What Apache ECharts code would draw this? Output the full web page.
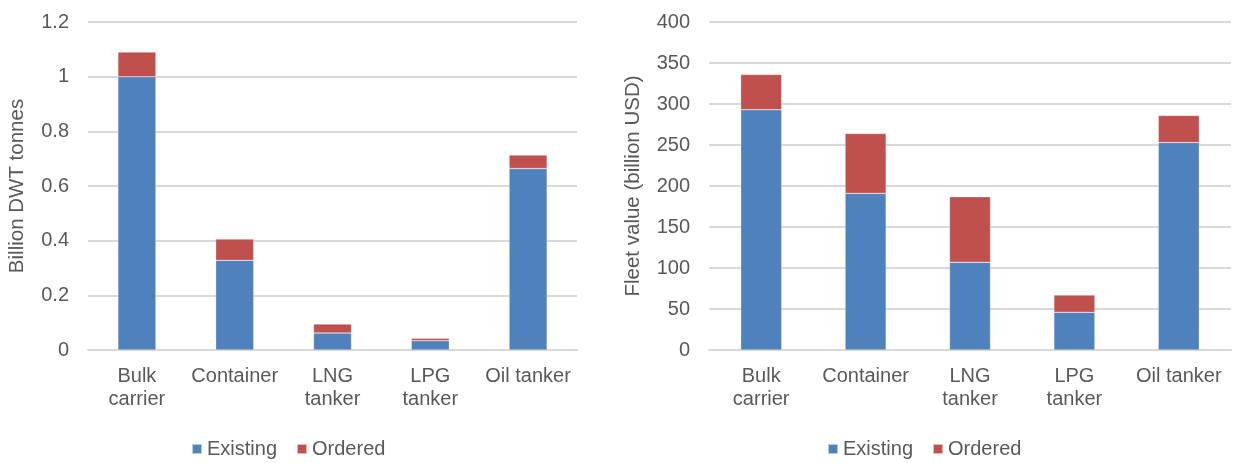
<!DOCTYPE html>
<html>
<head>
<meta charset="utf-8">
<script src="https://cdn.jsdelivr.net/npm/echarts@6/dist/echarts.min.js"></script>
<style>
  html, body { margin: 0; padding: 0; background: #fff; }
  #chart { width: 1236px; height: 463px; }
</style>
</head>
<body>
<div id="chart"></div>
<script>
// Ship types on the horizontal axis of both panels
const categories = ['Bulk\ncarrier', 'Container', 'LNG\ntanker', 'LPG\ntanker', 'Oil tanker'];

// Left panel: deadweight capacity, billion DWT tonnes
const dwtExisting = [1.0, 0.328, 0.062, 0.034, 0.664];
const dwtOrdered = [0.090, 0.078, 0.033, 0.009, 0.049];

// Right panel: fleet value, billion USD
const valueExisting = [293, 191, 107, 46, 253];
const valueOrdered = [43, 73, 80, 21, 33];

const seriesNames = ['Existing', 'Ordered'];
const colors = ['#4F81BD', '#C0504D'];

const font = 'Liberation Sans, Arial, sans-serif';
const textColor = '#595959';

function xAxis(gridIndex) {
  return {
    type: 'category',
    gridIndex,
    data: categories,
    axisLine: { show: true, lineStyle: { color: '#D9D9D9', width: 2 } },
    axisTick: { show: false },
    axisLabel: { color: textColor, fontFamily: font, fontSize: 20, lineHeight: 23, margin: 15, interval: 0 }
  };
}

function yAxis(gridIndex, name, max, interval, gap) {
  return {
    type: 'value',
    gridIndex,
    min: 0,
    max,
    interval,
    name,
    nameLocation: 'middle',
    nameGap: gap,
    nameTextStyle: { color: textColor, fontFamily: font, fontSize: 20.5 },
    axisLine: { show: false },
    axisTick: { show: false },
    axisLabel: { color: textColor, fontFamily: font, fontSize: 20, margin: 19 },
    splitLine: { lineStyle: { color: '#D9D9D9', width: 2 } }
  };
}

function bar(name, data, idx, color, width) {
  return {
    name,
    type: 'bar',
    stack: 'total' + idx,
    xAxisIndex: idx,
    yAxisIndex: idx,
    data,
    barWidth: width,
    itemStyle: { color, borderColor: 'rgba(255,255,255,0.6)', borderWidth: 0.5 }
  };
}

const legendCommon = {
  data: seriesNames,
  icon: 'rect',
  padding: 0,
  itemWidth: 10,
  itemHeight: 10,
  itemGap: 19,
  textStyle: { color: textColor, fontFamily: font, fontSize: 20 },
  selectedMode: false
};

const option = {
  animation: false,
  color: colors,
  textStyle: { fontFamily: font },
  grid: [
    { left: 88, top: 22, width: 489, height: 328 },
    { left: 709, top: 22, width: 522, height: 328 }
  ],
  xAxis: [xAxis(0), xAxis(1)],
  yAxis: [
    yAxis(0, 'Billion DWT tonnes', 1.2, 0.2, 60),
    yAxis(1, 'Fleet value (billion USD)', 400, 50, 65)
  ],
  legend: [
    Object.assign({ left: 191, top: 439 }, legendCommon),
    Object.assign({ left: 827, top: 439 }, legendCommon)
  ],
  series: [
    bar(seriesNames[0], dwtExisting, 0, colors[0], 38),
    bar(seriesNames[1], dwtOrdered, 0, colors[1], 38),
    bar(seriesNames[0], valueExisting, 1, colors[0], 41),
    bar(seriesNames[1], valueOrdered, 1, colors[1], 41)
  ]
};

const chart = echarts.init(document.getElementById('chart'), null, { renderer: 'canvas' });
chart.setOption(option);
</script>
</body>
</html>
